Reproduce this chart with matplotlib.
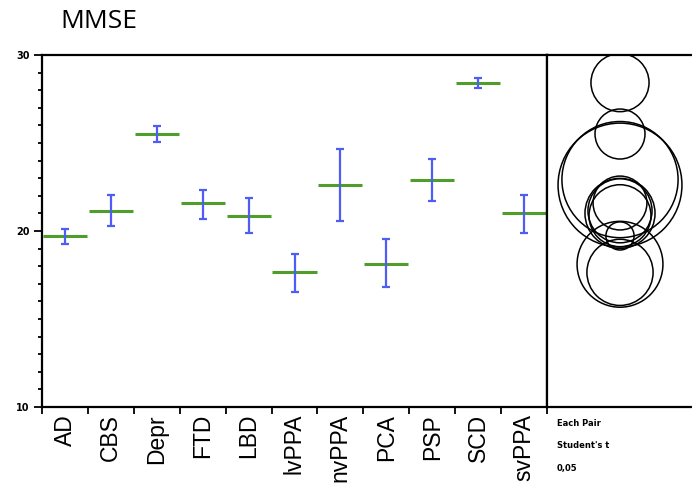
import numpy as np
import matplotlib
matplotlib.use("Agg")
import matplotlib.pyplot as plt
from matplotlib.patches import Circle
from matplotlib.ticker import MultipleLocator

# MMSE by diagnosis: group means, error bar limits, comparison circle radii
categories = ["AD", "CBS", "Depr", "FTD", "LBD", "lvPPA", "nvPPA", "PCA", "PSP", "SCD", "svPPA"]
means = [19.72, 21.15, 25.51, 21.59, 20.87, 17.65, 22.61, 18.11, 22.92, 28.43, 21.00]
err_lo = [19.26, 20.28, 25.04, 20.70, 19.87, 16.52, 20.57, 16.80, 21.72, 28.14, 19.87]
err_hi = [20.11, 22.05, 25.97, 22.35, 21.89, 18.68, 24.66, 19.55, 24.07, 28.71, 22.05]
circle_r = [0.80, 1.82, 1.42, 1.53, 1.76, 1.88, 3.52, 2.44, 3.30, 1.65, 1.99]

GREEN = "#4f9d2a"
BLUE = "#4d5df5"
W, H = 692, 493

fig = plt.figure(figsize=(W / 100, H / 100), dpi=100)

# main means plot
ax = fig.add_axes([42 / W, 1 - 407 / H, 505 / W, 352 / H])
x = np.arange(len(categories))
m = np.array(means)
ax.hlines(m, x - 0.48, x + 0.48, color=GREEN, lw=2.2, zorder=2)
ax.errorbar(x, m, yerr=[m - np.array(err_lo), np.array(err_hi) - m], fmt="none",
            ecolor=BLUE, elinewidth=1.6, capsize=3, capthick=1.6, zorder=3)

ax.set_xlim(-0.5, len(categories) - 0.5)
ax.set_ylim(10, 30)
ax.yaxis.set_major_locator(MultipleLocator(10))
ax.yaxis.set_minor_locator(MultipleLocator(1))
ax.tick_params(axis="y", which="major", length=6, width=1.3, labelsize=7, pad=3)
ax.tick_params(axis="y", which="minor", length=3, width=1.3)
for lab in ax.get_yticklabels():
    lab.set_fontweight("bold")

# x ticks sit on group boundaries, labels at group centres
ax.set_xticks(np.arange(len(categories) + 1) - 0.5)
ax.set_xticklabels([])
ax.set_xticks(x, minor=True)
ax.set_xticklabels(categories, minor=True, rotation=90, fontsize=16.5,
                   family="Liberation Sans", va="top", ha="center")
ax.tick_params(axis="x", which="major", length=5, width=1.3)
ax.tick_params(axis="x", which="minor", length=0, pad=5)
for s in ax.spines.values():
    s.set_linewidth(1.6)

# comparison circles panel, same y scale with equal pixel aspect
ax2 = fig.add_axes([547 / W, 1 - 407 / H, 160 / W, 352 / H])
ax2.set_ylim(10, 30)
fig.canvas.draw()
bb = ax2.get_window_extent()
px_per_unit = bb.height / 20.0
ax2.set_xlim(0, bb.width / px_per_unit)
cx = 73 / px_per_unit
for mu, r in zip(means, circle_r):
    ax2.add_patch(Circle((cx, mu), r, fill=False, ec="black", lw=1.1))
ax2.set_xticks([])
ax2.set_yticks([])
ax2.spines["right"].set_visible(False)
for s in ax2.spines.values():
    s.set_linewidth(1.6)

fig.text(60 / W, 1 - 21 / H, "MMSE", fontsize=19, family="Open Sans", va="center", ha="left")
for i, t in enumerate(["Each Pair", "Student's t", "0,05"]):
    fig.text(557 / W, 1 - (423 + 23 * i) / H, t, fontsize=6, fontweight="bold",
             va="center", ha="left")

fig.savefig("out.png", dpi=100)
